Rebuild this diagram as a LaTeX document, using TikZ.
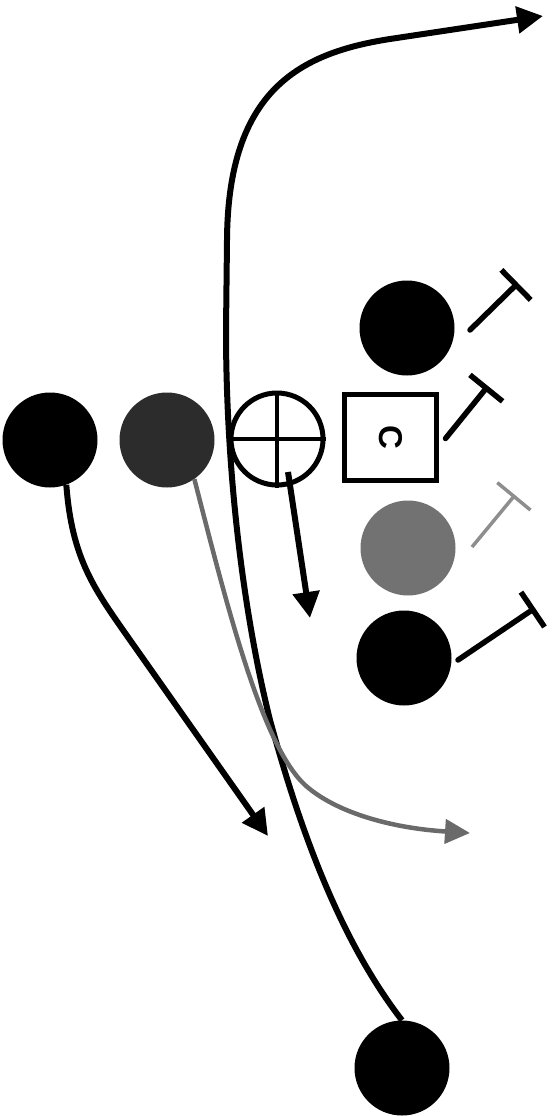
\documentclass[tikz,border=0pt]{standalone}
\usepackage{fontspec}
\setsansfont{Liberation Sans}
\usetikzlibrary{arrows.meta,calc}
\definecolor{darkgr}{HTML}{2C2C2C}
\definecolor{midgr}{HTML}{727272}
\definecolor{routegr}{HTML}{6A6A6A}
\definecolor{lightgr}{HTML}{8E8E8E}
\begin{document}
\begin{tikzpicture}[x=1pt,y=-1pt,
  player/.style={circle,fill=black,minimum size=95pt,inner sep=0pt},
  grayplayer/.style={circle,fill=#1,minimum size=95pt,inner sep=0pt},
  qb/.style={circle,draw=black,line width=5pt,minimum size=92pt,inner sep=0pt},
  centerbox/.style={rectangle,draw=black,line width=5pt,minimum width=92pt,minimum height=86pt,inner sep=0pt},
  route/.style={line width=6pt,-{Triangle[length=26pt,width=26pt]}},
  grayroute/.style={line width=4.5pt,draw=routegr,-{Triangle[length=25pt,width=24pt,fill=routegr]}},
  blocking/.style={line width=5.5pt,line cap=round,-{Bar[width=42pt,line width=5.5pt]}},
  grayblocking/.style={line width=3.5pt,draw=lightgr,-{Bar[width=43pt,line width=3.5pt]}}]
\useasboundingbox (0,0) rectangle (555,1116);

% players
\node[player] (lb) at (50,440) {};
\node[grayplayer=darkgr] (lg) at (167,440) {};
\node[qb] (xc) at (277,439) {};
\draw[line width=4pt] (xc.west) -- (xc.east);
\draw[line width=4pt] (xc.north) -- (xc.south);
\node[player] (rt) at (407,328) {};
\node[centerbox] (cb) at (390.5,437.5) {};
\node[rotate=-90,font=\sffamily\bfseries\fontsize{33}{33}\selectfont] (cl) at (cb.center) {C};
\node[grayplayer=midgr] (rg) at (408,548) {};
\node[player] (rb) at (404,658) {};
\node[player] (bot) at (402,1068) {};

% free ends
\coordinate (t1) at (518,283);
\coordinate (t2) at (488,386);
\coordinate (t3) at (515,495);
\coordinate (t4) at (535,608);
\coordinate (toptip) at (543,16);
\coordinate (lbtip) at (268,836);
\coordinate (lgtip) at (470,833);
\coordinate (xctip) at (310,618);

% blocks
\draw[blocking] ($(rt.center)+(63,2)$) -- (t1);
\draw[blocking] ($(cb.center)+(55,1)$) -- (t2);
\draw[grayblocking] ($(rg.center)+(64,-1)$) -- (t3);
\draw[blocking] ($(rb.center)+(54,2)$) -- (t4);

% routes
\draw[route] (bot.north) .. controls (340,940) and (300,830) .. (270,720)
  .. controls (245,620) and (226,480) .. (226,330) -- (227,240)
  .. controls (228,90) and (300,53) .. (390,39) -- (toptip);
\draw[route] (lb.-70) .. controls (72,560) and (95,590) .. (130,640) -- (lbtip);
\draw[grayroute] (lg.-55) .. controls (228,610) and (262,745) .. (305,785)
  .. controls (335,812) and (390,828) .. (lgtip);
\draw[route] ($(xc.center)+(11,33)$) -- (xctip);
\end{tikzpicture}
\end{document}
